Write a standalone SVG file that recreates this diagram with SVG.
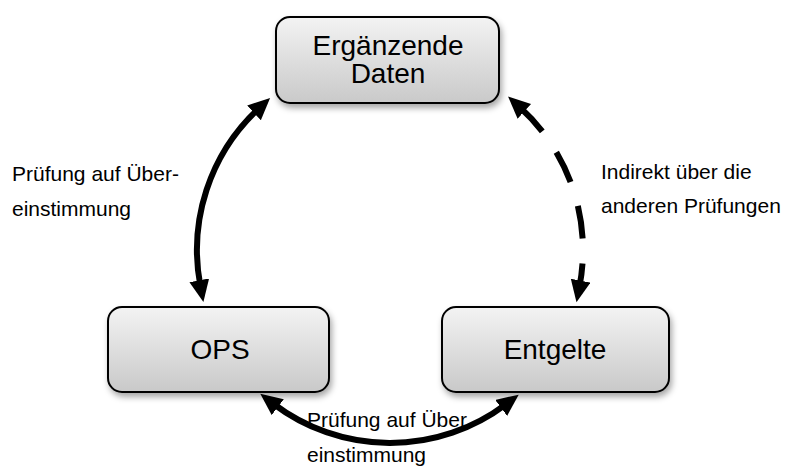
<svg xmlns="http://www.w3.org/2000/svg" width="785" height="466" viewBox="0 0 785 466">
  <defs>
    <linearGradient id="boxfill" x1="0" y1="0" x2="0" y2="1">
      <stop offset="0" stop-color="#f3f3f3"/>
      <stop offset="1" stop-color="#c9c9c9"/>
    </linearGradient>
    <filter id="shadow" x="-10%" y="-10%" width="125%" height="135%">
      <feDropShadow dx="2" dy="4" stdDeviation="3" flood-color="#000" flood-opacity="0.35"/>
    </filter>
    <marker id="head" markerUnits="userSpaceOnUse" markerWidth="24" markerHeight="22" refX="6" refY="10" orient="auto-start-reverse">
      <path d="M0,0 L22,10 L0,20 z" fill="#000"/>
    </marker>
  </defs>
  <style>
    .box { fill: url(#boxfill); stroke: #000; stroke-width: 2; filter: url(#shadow); }
    .boxtext { font-family: "Liberation Sans", Arial, sans-serif; font-size: 28px; fill: #000; text-anchor: middle; }
    .label { font-family: "Liberation Sans", Arial, sans-serif; font-size: 21px; fill: #000; }
    .conn { fill: none; stroke: #000; stroke-width: 6; marker-start: url(#head); marker-end: url(#head); }
    .dashed { stroke-dasharray: 33 25; }
  </style>

  <g id="node-ergaenzende-daten">
    <rect class="box" x="276" y="17" width="223" height="86" rx="14" ry="14"/>
    <text class="boxtext" x="388" y="55">Ergänzende</text>
    <text class="boxtext" x="388" y="83">Daten</text>
  </g>

  <g id="node-ops">
    <rect class="box" x="108" y="307" width="221" height="85" rx="14" ry="14"/>
    <text class="boxtext" x="220" y="359">OPS</text>
  </g>

  <g id="node-entgelte">
    <rect class="box" x="442" y="307" width="227" height="85" rx="14" ry="14"/>
    <text class="boxtext" x="555" y="359">Entgelte</text>
  </g>

  <g id="labels">
    <text class="label" x="12" y="181">Prüfung auf Über-</text>
    <text class="label" x="12" y="216">einstimmung</text>
    <text class="label" x="601" y="179">Indirekt über die</text>
    <text class="label" x="601" y="213">anderen Prüfungen</text>
    <text class="label" x="307" y="427">Prüfung auf Über</text>
    <text class="label" x="307" y="462">einstimmung</text>
  </g>

  <g id="connectors">
    <path class="conn" d="M200.4,286.2 A193,193 0 0 1 258.4,108.8"/>
    <path class="conn dashed" d="M519.9,107.3 A193,193 0 0 1 579.5,286.5"/>
    <path class="conn" d="M505.9,404.3 A193,193 0 0 1 273.0,403.5"/>
  </g>
</svg>
